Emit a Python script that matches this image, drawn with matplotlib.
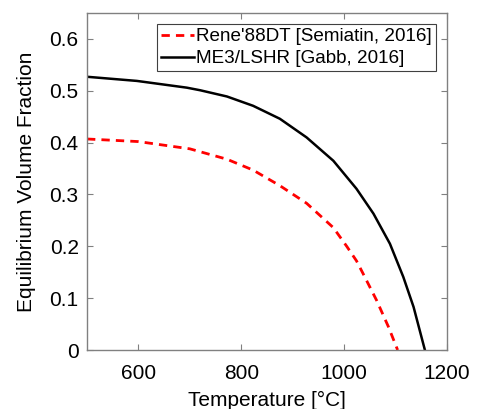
import numpy as np
import matplotlib.pyplot as plt

plt.rcParams['font.family'] = ['Liberation Sans', 'DejaVu Sans']

# temperatures [C] and equilibrium gamma' fraction
t_me3 = [500, 597, 694, 720, 772, 823, 875, 927, 979, 1024, 1057, 1089, 1115, 1135, 1157]
f_me3 = [0.527, 0.519, 0.506, 0.501, 0.489, 0.471, 0.446, 0.410, 0.365, 0.311,
         0.263, 0.205, 0.141, 0.083, 0.0]
t_rene = [500, 600, 700, 772, 823, 875, 927, 979, 1005, 1024, 1037, 1063, 1086, 1104]
f_rene = [0.407, 0.402, 0.388, 0.368, 0.347, 0.317, 0.283, 0.236, 0.200, 0.172,
          0.147, 0.096, 0.045, 0.0]

fig = plt.figure(figsize=(4.82, 4.09), dpi=100)
ax = fig.add_axes([87/482, 1-350/409, (447-87)/482, (350-13)/409])

ax.plot(t_rene, f_rene, '--', color='red', lw=2, dashes=(3, 2.2), label="Rene'88DT [Semiatin, 2016]")
ax.plot(t_me3, f_me3, '-', color='black', lw=1.8, label='ME3/LSHR [Gabb, 2016]')

ax.set_xlim(500, 1200)
ax.set_ylim(0, 0.65)
ax.set_xticks([600, 800, 1000, 1200])
ax.set_yticks([0, 0.1, 0.2, 0.3, 0.4, 0.5, 0.6])
ax.set_yticklabels(['0', '0.1', '0.2', '0.3', '0.4', '0.5', '0.6'])
ax.tick_params(direction='in', top=True, right=True, labelsize=15, length=4,
               color='#808080', width=0.8, pad=6)
ax.tick_params(axis='x', pad=10)
for s in ax.spines.values():
    s.set_color('#808080')
    s.set_linewidth(1.0)

ax.set_xlabel('Temperature [°C]', fontsize=15, labelpad=6)
ax.set_ylabel('Equilibrium Volume Fraction', fontsize=15, labelpad=10)

leg = ax.legend(loc='upper right', fontsize=13.6, fancybox=False, framealpha=1,
                edgecolor='#404040', handlelength=1.75, handletextpad=0.1,
                borderpad=0.2, labelspacing=0.25, borderaxespad=0.6)
leg.get_frame().set_linewidth(0.8)

fig.savefig('out.png')
